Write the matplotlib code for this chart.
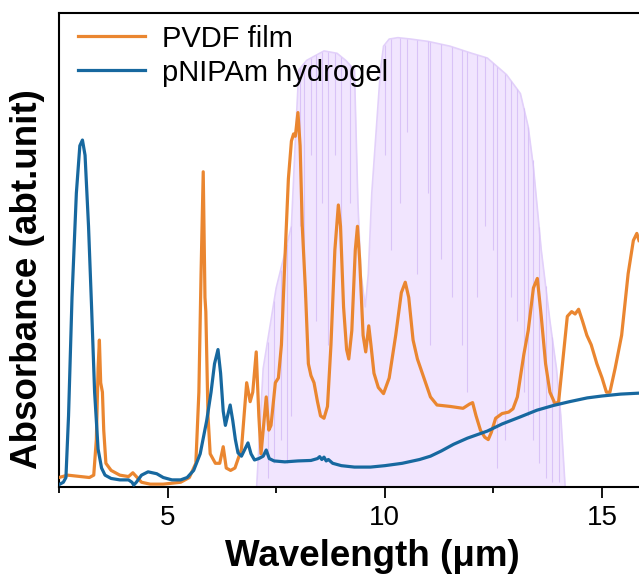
import numpy as np
import matplotlib
matplotlib.use("Agg")
import matplotlib.pyplot as plt
from matplotlib.ticker import MultipleLocator

plt.rcParams['font.family'] = ['Liberation Sans', 'DejaVu Sans']

# PVDF film absorbance
pvdf_x = [2.5, 2.7, 2.9, 3.0, 3.2, 3.3, 3.36, 3.40, 3.43, 3.46, 3.50, 3.53, 3.58, 3.7, 3.9,
          4.1, 4.2, 4.3, 4.4, 4.6, 4.9, 5.1, 5.3, 5.5, 5.65, 5.72, 5.77, 5.82, 5.86, 5.88,
          5.93, 5.98, 6.1, 6.2, 6.28, 6.35, 6.45, 6.55, 6.7, 6.82, 6.9, 6.96, 7.04, 7.1,
          7.15, 7.22, 7.27, 7.33, 7.38, 7.48, 7.55, 7.62, 7.7, 7.78, 7.85, 7.9, 7.94, 8.0,
          8.05, 8.1, 8.17, 8.24, 8.3, 8.37, 8.45, 8.52, 8.6, 8.68, 8.76, 8.85, 8.93, 8.98,
          9.05, 9.12, 9.17, 9.24, 9.32, 9.37, 9.42, 9.5, 9.56, 9.63, 9.68, 9.75, 9.85, 9.97,
          10.1, 10.25, 10.38, 10.47, 10.55, 10.65, 10.75, 10.9, 11.05, 11.2, 11.5, 11.8,
          11.95, 12.02, 12.1, 12.2, 12.3, 12.38, 12.45, 12.55, 12.7, 12.85, 12.95, 13.05,
          13.2, 13.3, 13.42, 13.51, 13.6, 13.7, 13.8, 13.92, 14.0, 14.1, 14.2, 14.3, 14.38,
          14.46, 14.55, 14.65, 14.75, 14.88, 15.0, 15.1, 15.18, 15.3, 15.45, 15.6, 15.72,
          15.8, 15.85]
pvdf_y = [0.02, 0.025, 0.023, 0.022, 0.02, 0.025, 0.1, 0.25, 0.31, 0.22, 0.2, 0.12, 0.05, 0.035, 0.025,
          0.022, 0.03, 0.02, 0.01, 0.006, 0.006, 0.008, 0.01, 0.02, 0.05, 0.2, 0.45, 0.665, 0.4, 0.37,
          0.15, 0.07, 0.05, 0.05, 0.085, 0.04, 0.035, 0.04, 0.08, 0.22, 0.18, 0.2, 0.285, 0.15,
          0.07, 0.14, 0.19, 0.12, 0.13, 0.22, 0.23, 0.3, 0.48, 0.65, 0.73, 0.745, 0.74, 0.79,
          0.72, 0.55, 0.42, 0.26, 0.235, 0.22, 0.18, 0.15, 0.145, 0.17, 0.3, 0.5, 0.595, 0.55,
          0.38, 0.29, 0.27, 0.33, 0.5, 0.55, 0.48, 0.32, 0.285, 0.34, 0.3, 0.24, 0.21, 0.197,
          0.23, 0.32, 0.41, 0.432, 0.4, 0.31, 0.27, 0.23, 0.19, 0.173, 0.17, 0.166,
          0.175, 0.178, 0.15, 0.12, 0.105, 0.1, 0.115, 0.145, 0.155, 0.158, 0.165, 0.19,
          0.28, 0.33, 0.42, 0.44, 0.36, 0.26, 0.2, 0.175, 0.18, 0.27, 0.36, 0.37, 0.365,
          0.375, 0.35, 0.32, 0.3, 0.26, 0.23, 0.2, 0.2, 0.25, 0.32, 0.45, 0.52,
          0.535, 0.52]

# pNIPAm hydrogel absorbance
gel_x = [2.5, 2.6, 2.66, 2.72, 2.8, 2.9, 2.98, 3.04, 3.1, 3.18, 3.25, 3.32, 3.4, 3.48, 3.56,
         3.7, 3.9, 4.1, 4.18, 4.22, 4.28, 4.4, 4.55, 4.65, 4.75, 4.9, 5.1, 5.3, 5.45, 5.6,
         5.75, 5.9, 6.0, 6.08, 6.16, 6.22, 6.28, 6.33, 6.38, 6.44, 6.5, 6.56, 6.62, 6.7,
         6.78, 6.85, 6.92, 7.0, 7.1, 7.2, 7.27, 7.34, 7.45, 7.7, 8.0, 8.3, 8.45, 8.5, 8.55,
         8.6, 8.65, 8.7, 8.8, 9.0, 9.3, 9.67, 10.0, 10.4, 10.8, 11.05, 11.3, 11.58, 11.9,
         12.36, 12.7, 13.12, 13.5, 13.88, 14.25, 14.66, 15.0, 15.43, 15.85]
gel_y = [0.005, 0.01, 0.02, 0.15, 0.4, 0.62, 0.72, 0.732, 0.7, 0.55, 0.38, 0.2, 0.08, 0.04, 0.025,
         0.018, 0.015, 0.015, 0.01, 0.004, 0.01, 0.025, 0.032, 0.03, 0.028, 0.02, 0.015, 0.015, 0.02, 0.035,
         0.07, 0.14, 0.2, 0.26, 0.29, 0.24, 0.16, 0.13, 0.15, 0.173, 0.14, 0.1, 0.072, 0.065,
         0.08, 0.093, 0.07, 0.057, 0.06, 0.065, 0.078, 0.06, 0.055, 0.053, 0.055, 0.056, 0.06, 0.064, 0.058,
         0.063, 0.055, 0.058, 0.05, 0.045, 0.042, 0.042, 0.045, 0.05, 0.058, 0.065, 0.076, 0.09, 0.103,
         0.118, 0.133, 0.148, 0.162, 0.172, 0.18, 0.188, 0.192, 0.196, 0.198]

# atmospheric window (transmittance envelope, scaled to the axis)
atm_x = [7.05, 7.2, 7.5, 7.85, 7.95, 8.02, 8.2, 8.6, 8.9, 9.1, 9.3, 9.38, 9.45, 9.55, 9.62,
         9.7, 9.8, 9.9, 9.97, 10.1, 10.3, 10.6, 11.0, 11.5, 12.0, 12.36, 12.8, 13.12, 13.3,
         13.42, 13.6, 13.8, 13.95, 14.05, 14.15]
atm_y = [0.0, 0.25, 0.42, 0.55, 0.75, 0.88, 0.9, 0.92, 0.915, 0.9, 0.88, 0.6, 0.45, 0.38, 0.45,
         0.62, 0.75, 0.88, 0.93, 0.945, 0.948, 0.945, 0.94, 0.93, 0.915, 0.905, 0.87, 0.83, 0.76,
         0.675, 0.5, 0.35, 0.25, 0.15, 0.0]
# absorption lines cutting into the window: position and lowest point
line_x = [7.3, 7.45, 7.6, 7.75, 7.85, 8.05, 8.15, 8.3, 8.42, 8.55, 8.7, 8.85, 9.0, 9.2,
          10.0, 10.15, 10.36, 10.5, 10.75, 11.0, 11.05, 11.3, 11.55, 11.78, 11.9, 12.13,
          12.3, 12.5, 12.59, 12.77, 12.9, 13.05, 13.2, 13.3, 13.4, 13.55, 13.7, 13.85, 14.0]
line_lo = [0.02, 0.05, 0.1, 0.05, 0.15, 0.55, 0.4, 0.7, 0.35, 0.6, 0.3, 0.7, 0.5, 0.6,
           0.7, 0.5, 0.6, 0.75, 0.45, 0.62, 0.3, 0.48, 0.4, 0.3, 0.2, 0.4,
           0.55, 0.5, 0.04, 0.1, 0.4, 0.35, 0.2, 0.15, 0.1, 0.05, 0.02, 0.01, 0.01]

fig = plt.figure(figsize=(6.39, 5.81), dpi=100)
ax = fig.add_axes([0.0923, 0.1618, 0.9077, 0.8158])

ax.fill_between(atm_x, 0, atm_y, color='#f1e5fe', lw=0, zorder=1)
ax.plot(atm_x, atm_y, color='#e2d0fa', lw=1.2, zorder=1)
tops = np.interp(line_x, atm_x, atm_y)
ax.vlines(line_x, line_lo, tops, color='#d9c3f7', lw=0.8, zorder=1)

ax.plot(pvdf_x, pvdf_y, color='#ea8630', lw=2.3, label='PVDF film', zorder=3)
ax.plot(gel_x, gel_y, color='#17689f', lw=2.3, label='pNIPAm hydrogel', zorder=4)

ax.set_xlim(2.5, 15.85)
ax.set_ylim(0, 1)
ax.xaxis.set_major_locator(MultipleLocator(5))
ax.xaxis.set_minor_locator(MultipleLocator(2.5))
ax.set_yticks([])
ax.tick_params(axis='x', which='both', top=False)
ax.tick_params(axis='x', which='major', direction='out', length=8, width=1.3, labelsize=20, pad=5)
ax.tick_params(axis='x', which='minor', direction='out', length=4.5, width=1.3)
for s in ['left', 'top', 'bottom']:
    ax.spines[s].set_linewidth(1.5)
ax.spines['right'].set_visible(False)

ax.set_xlabel('Wavelength (μm)', fontsize=26.5, fontweight='bold')
ax.set_ylabel('Absorbance (abt.unit)', fontsize=26.5, fontweight='bold')
ax.xaxis.set_label_coords(0.541, -0.11)
ax.yaxis.set_label_coords(-0.024, 0.439)

ax.legend(loc='upper left', frameon=False, fontsize=21, handlelength=2.3,
          borderaxespad=0.0, labelspacing=0.2, handletextpad=0.6, bbox_to_anchor=(0.012, 1.0))

fig.savefig('out.png', dpi=100)
